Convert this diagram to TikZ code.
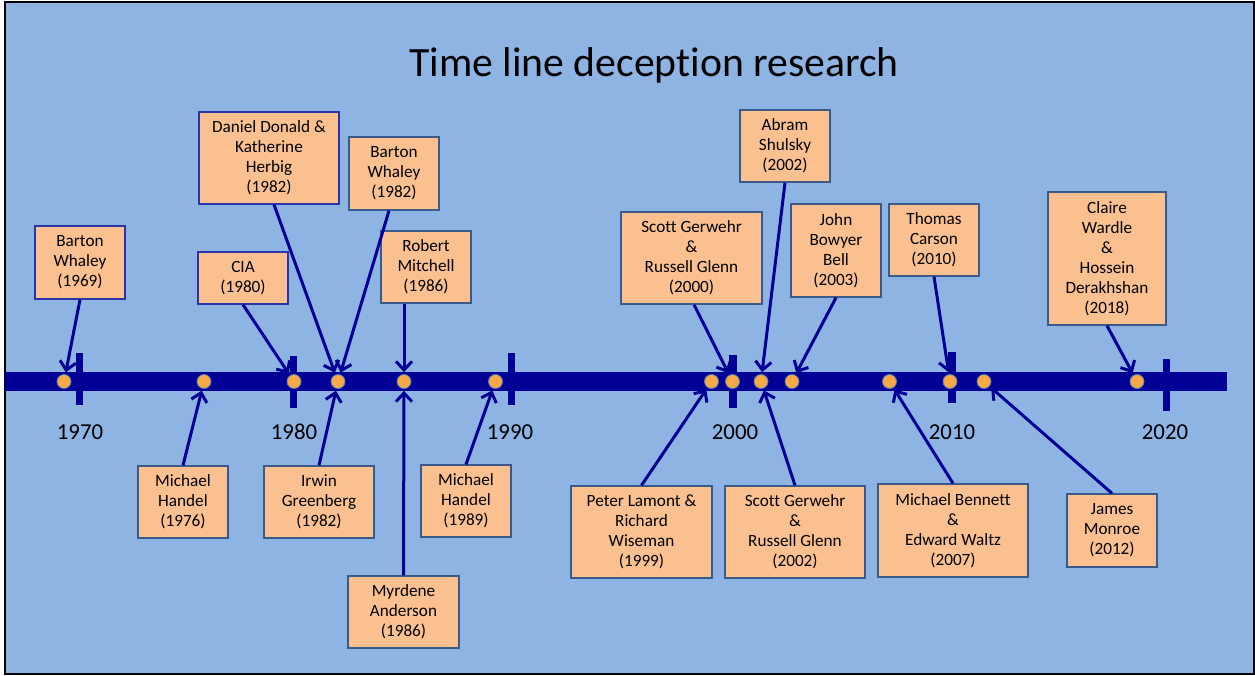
\documentclass[tikz,border=0pt]{standalone}
\usepackage{fontspec}
\setmainfont{Carlito}[Ligatures=NoCommon]
\usetikzlibrary{arrows.meta}
\definecolor{bgblue}{HTML}{8EB4E3}
\definecolor{navy}{HTML}{000096}
\definecolor{boxfill}{HTML}{FAC090}
\definecolor{bordblue}{HTML}{2B35A8}
\definecolor{bordgrey}{HTML}{3A5A8A}
\definecolor{dotfill}{HTML}{F6A945}
\definecolor{dotbord}{HTML}{4F81BD}
\begin{document}
\begin{tikzpicture}[x=1pt,y=-1pt,
  evbox/.style={draw=bordgrey, line width=1.3pt, fill=boxfill, inner sep=0pt, align=center,
     font=\fontsize{17.2}{20}\selectfont},
  evboxb/.style={evbox, draw=bordblue},
  dotst/.style={circle, draw=dotbord, line width=0.8pt, fill=dotfill, minimum size=14pt, inner sep=0pt},
  arr/.style={draw=navy, line width=3pt, shorten >=2pt, -{Straight Barb[length=8.5pt,width=16pt]}},
  yearst/.style={anchor=base, font=\fontsize{22.8}{26}\selectfont}
]
\useasboundingbox (0,0) rectangle (1255,675);
\fill[white] (0,0) rectangle (1255,675);
\draw[line width=2pt, fill=bgblue] (4.5,1.5) rectangle (1253.5,673.5);

% title
\node[anchor=base, font=\fontsize{41.7}{48}\selectfont] (title) at (654,76.5) {Time line deception research};

% bar and ticks
\fill[navy] (5,372) rectangle (1227,391);
\fill[navy] (76,353) rectangle (83,405);
\fill[navy] (290,356) rectangle (297,408);
\fill[navy] (508,353) rectangle (515,405);
\fill[navy] (729,355) rectangle (737,408);
\fill[navy] (948,352) rectangle (956,403);
\fill[navy] (1163,359) rectangle (1170,411);

% year labels
\node[yearst] (y1970) at (80,439) {1970};
\node[yearst] (y1980) at (294,439) {1980};
\node[yearst] (y1990) at (510,439) {1990};
\node[yearst] (y2000) at (735,439) {2000};
\node[yearst] (y2010) at (952,439) {2010};
\node[yearst] (y2020) at (1165,439) {2020};

% dots
\node[dotst] (d1) at (64,381.5) {};
\node[dotst] (d2) at (204,381.5) {};
\node[dotst] (d3) at (294,381.5) {};
\node[dotst] (d4) at (338,381.5) {};
\node[dotst] (d5) at (404,381.5) {};
\node[dotst] (d6) at (495.5,381.5) {};
\node[dotst] (d7) at (711.5,381.5) {};
\node[dotst] (d8) at (732.5,381.5) {};
\node[dotst] (d9) at (761,381.5) {};
\node[dotst] (d10) at (792,381.5) {};
\node[dotst] (d11) at (889.5,381.5) {};
\node[dotst] (d12) at (950,381.5) {};
\node[dotst] (d13) at (984,381.5) {};
\node[dotst] (d14) at (1137,381.5) {};

% boxes above
\node[evboxb, minimum width=90pt, minimum height=73pt] (b1969) at (80,262.5) {Barton\\Whaley\\(1969)};
\node[evboxb, minimum width=90pt, minimum height=52pt] (bcia) at (243,278) {CIA\\(1980)};
\node[evboxb, minimum width=140pt, minimum height=92pt] (bdan) at (269,158) {Daniel Donald \&\\Katherine\\Herbig\\(1982)};
\node[evbox, minimum width=90pt, minimum height=73pt] (bbw82) at (394,173.5) {Barton\\Whaley\\(1982)};
\node[evbox, minimum width=90pt, minimum height=72pt] (brm) at (426,267) {Robert\\Mitchell\\(1986)};
\node[evbox, minimum width=141pt, minimum height=92pt] (bsg00) at (691.5,258) {Scott Gerwehr\\\&\\Russell Glenn\\(2000)};
\node[evbox, minimum width=90pt, minimum height=72pt] (bas) at (785,146) {Abram\\Shulsky\\(2002)};
\node[evbox, minimum width=90pt, minimum height=93pt] (bjb) at (836,250.5) {John\\Bowyer\\Bell\\(2003)};
\node[evbox, minimum width=90pt, minimum height=72pt] (btc) at (934,240) {Thomas\\Carson\\(2010)};
\node[evbox, minimum width=118pt, minimum height=133pt] (bcw) at (1107,258.5) {Claire\\Wardle\\\&\\Hossein\\Derakhshan\\(2018)};

% boxes below
\node[evbox, minimum width=90pt, minimum height=72pt] (bmh76) at (183,502) {Michael\\Handel\\(1976)};
\node[evbox, minimum width=110pt, minimum height=72pt] (big) at (319,502) {Irwin\\Greenberg\\(1982)};
\node[evbox, minimum width=111pt, minimum height=72pt] (bma) at (403.5,612) {Myrdene\\Anderson\\(1986)};
\node[evbox, minimum width=90pt, minimum height=72pt] (bmh89) at (466,501) {Michael\\Handel\\(1989)};
\node[evbox, minimum width=141pt, minimum height=92pt] (bpl) at (641.5,532) {Peter Lamont \&\\Richard\\Wiseman\\(1999)};
\node[evbox, minimum width=140pt, minimum height=92pt] (bsg02) at (795,532) {Scott Gerwehr\\\&\\Russell Glenn\\(2002)};
\node[evbox, minimum width=150pt, minimum height=93pt] (bmb) at (953,530.5) {Michael Bennett\\\&\\Edward Waltz\\(2007)};
\node[evbox, minimum width=90pt, minimum height=73pt] (bjm) at (1112,530.5) {James\\Monroe\\(2012)};

% connectors
\draw[arr] (b1969.south) -- (d1);
\draw[arr] (bcia.south) -- (d3);
\draw[arr] ([xshift=5pt]bdan.south) -- (d4);
\draw[arr] ([xshift=-5pt]bbw82.south) -- (d4);
\draw[arr] ([xshift=-22pt]brm.south) -- (d5);
\draw[arr] ([xshift=2.5pt]bsg00.south) -- (d8);
\draw[arr] (bas.south) -- (d9);
\draw[arr] (bjb.south) -- (d10);
\draw[arr] (btc.south) -- (d12);
\draw[arr] (bcw.south) -- (d14);

\draw[arr] (bmh76.north) -- (d2);
\draw[arr] (big.north) -- (d4);
\draw[arr] (bma.north) -- (d5);
\draw[arr] (bmh89.north) -- (d6);
\draw[arr] (bpl.north) -- (d7);
\draw[arr] (bsg02.north) -- (d9);
\draw[arr] (bmb.north) -- (d11);
\draw[arr] (bjm.north) -- (d13);
\end{tikzpicture}
\end{document}
